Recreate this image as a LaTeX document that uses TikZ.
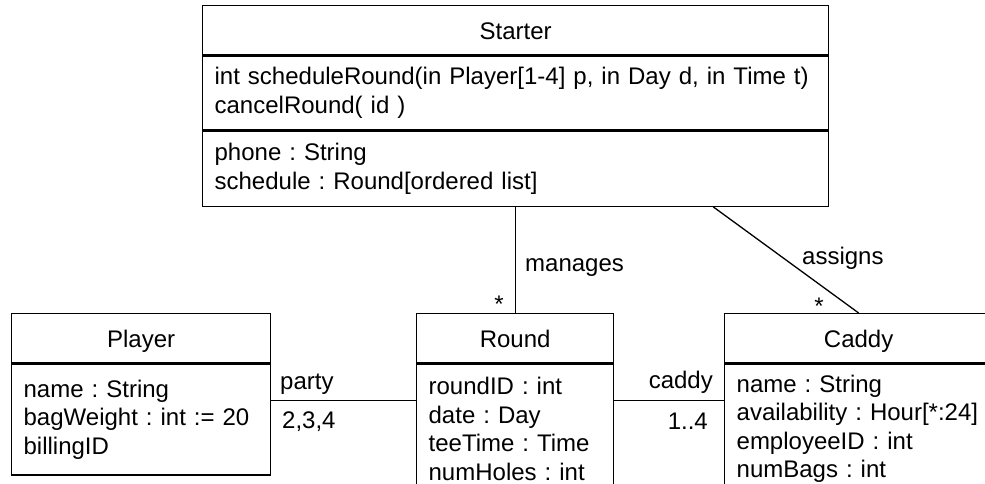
\documentclass[tikz,border=0pt]{standalone}
\usepackage{fontspec}
\setmainfont{Liberation Sans}
\usetikzlibrary{positioning}
\tikzset{
  every node/.style={font=\fontsize{24}{28.5}\selectfont\frenchspacing},
  classhead/.style={draw, line width=1.3pt, inner sep=0pt, minimum height=49pt,
    text height=18pt, text depth=0pt},
  classbody/.style={draw, line width=1.3pt, inner xsep=12pt, inner ysep=0pt, align=left},
  assoc/.style={line width=1.3pt},
  rolelabel/.style={inner sep=0pt}
}

\begin{document}
\begin{tikzpicture}[x=1pt, y=-1pt]
  \path[use as bounding box] (0,0) rectangle (985,484);
  \clip (0,0) rectangle (985,484);

  % Starter
  \node[classhead, minimum width=626pt, anchor=north west] (starterhead) at (202,5) {Starter};
  \node[classbody, text width=602pt, minimum height=74pt, below=0pt of starterhead] (starterops)
    {int scheduleRound(in Player[1-4] p, in Day d, in Time t)\\ cancelRound( id )};
  \node[classbody, text width=602pt, minimum height=75pt, below=0pt of starterops] (starterattr)
    {phone : String\\ schedule : Round[ordered list]};

  % Player, Round, Caddy
  \node[classhead, minimum width=259pt, anchor=north west] (playerhead) at (11,313) {Player};
  \node[classbody, text width=235pt, minimum height=111pt, below=0pt of playerhead] (playerbody)
    {name : String\\ bagWeight : int := 20\\ billingID};

  \node[classhead, minimum width=197pt, anchor=north west] (roundhead) at (416,313) {Round};
  \node[classbody, text width=173pt, minimum height=130pt, below=0pt of roundhead] (roundbody)
    {roundID : int\\ date : Day\\ teeTime : Time\\ numHoles : int};

  \node[classhead, minimum width=268pt, anchor=north west] (caddyhead) at (724,313) {Caddy};
  \node[classbody, text width=244pt, minimum height=130pt, below=0pt of caddyhead] (caddybody)
    {name : String\\ availability : Hour[*:24]\\ employeeID : int\\ numBags : int};

  % associations
  \coordinate (assignsfoot) at ([xshift=-116pt]starterattr.south east);
  \draw[assoc] (roundhead.north) -- (roundhead.north |- starterattr.south);
  \draw[assoc] (caddyhead.north) -- (assignsfoot);
  \draw[assoc] ([yshift=-37pt]playerhead.south east) -- ([yshift=-37pt]roundhead.south west);
  \draw[assoc] ([yshift=-37pt]roundhead.south east) -- ([yshift=-37pt]caddyhead.south west);

  \node[rolelabel, anchor=base west] (managestext) at (525,271) {manages};
  \node[rolelabel, anchor=base] (managesmult) at (499,312) {*};
  \node[rolelabel, anchor=base west] (assignstext) at (802,264) {assigns};
  \node[rolelabel, anchor=base] (assignsmult) at (819,314) {*};
  \node[rolelabel, anchor=base west] (partytext) at (280,389) {party};
  \node[rolelabel, anchor=base west] (partymult) at (282,428) {2,3,4};
  \node[rolelabel, anchor=base east] (caddytext) at (713,388) {caddy};
  \node[rolelabel, anchor=base east] (caddymult) at (708,429) {1..4};
\end{tikzpicture}
\end{document}
